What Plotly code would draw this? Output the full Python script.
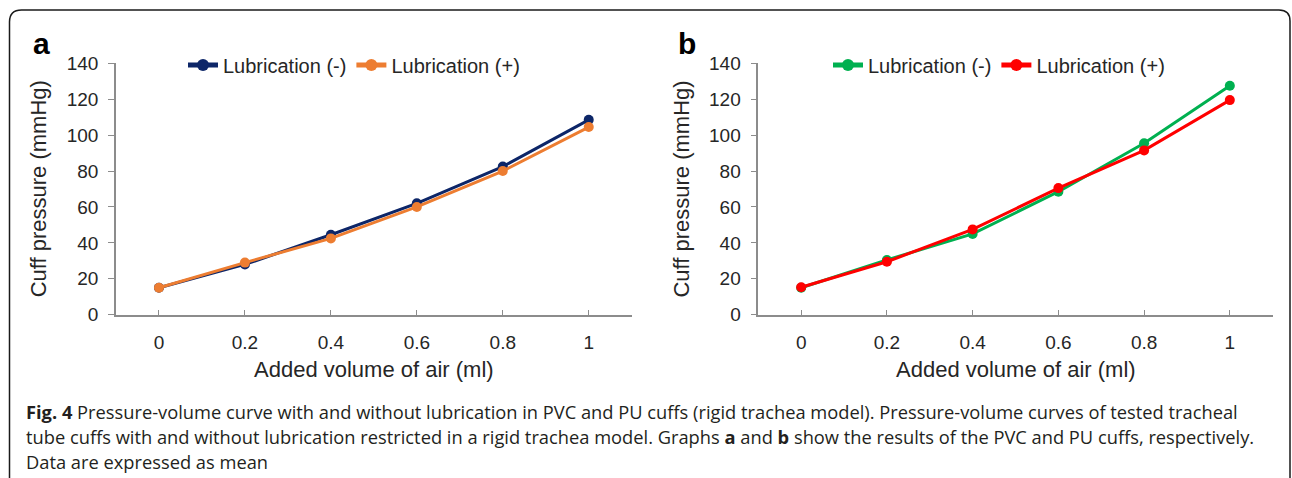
import plotly.graph_objects as go

# ---- data ----
added_volume = [0, 0.2, 0.4, 0.6, 0.8, 1.0]
pvc_lub_minus = [15, 28, 44.5, 62, 82.5, 108.5]
pvc_lub_plus = [15, 29, 42.5, 60, 80, 104.5]
pu_lub_minus = [15, 30.5, 45, 68.5, 95.5, 127.5]
pu_lub_plus = [15.3, 29.5, 47.5, 70.5, 91.5, 119.5]
series_names = ["Lubrication (-)", "Lubrication (+)"]
y_ticks = [0, 20, 40, 60, 80, 100, 120, 140]
x_ticks = [0, 0.2, 0.4, 0.6, 0.8, 1]
x_tick_labels = ["0", "0.2", "0.4", "0.6", "0.8", "1"]
panel_labels = ["a", "b"]
x_title = "Added volume of air (ml)"
y_title = "Cuff pressure (mmHg)"
caption_lines = [
    "<b>Fig. 4</b> Pressure-volume curve with and without lubrication in PVC and PU cuffs (rigid trachea model). Pressure-volume curves of tested tracheal",
    "tube cuffs with and without lubrication restricted in a rigid trachea model. Graphs <b>a</b> and <b>b</b> show the results of the PVC and PU cuffs, respectively.",
    "Data are expressed as mean",
]

W, H = 1292, 478


def px(x):
    return x / W


def py(y):
    return 1 - y / H


FONT = "Liberation Sans, Arial, sans-serif"
TXT = "#262626"
AX = "#8c8c8c"

fig = go.Figure()

colors_a = ["#0d2668", "#ED7D31"]
colors_b = ["#00B050", "#FF0000"]

for name, ys, c in zip(series_names, [pvc_lub_minus, pvc_lub_plus], colors_a):
    fig.add_trace(go.Scatter(x=added_volume, y=ys, name=name, mode="lines+markers",
                             line=dict(color=c, width=3), marker=dict(color=c, size=10),
                             xaxis="x", yaxis="y", legend="legend"))
for name, ys, c in zip(series_names, [pu_lub_minus, pu_lub_plus], colors_b):
    fig.add_trace(go.Scatter(x=added_volume, y=ys, name=name, mode="lines+markers",
                             line=dict(color=c, width=3), marker=dict(color=c, size=10),
                             xaxis="x2", yaxis="y2", legend="legend2"))

plot_top, plot_bot = 63.3, 314.7
dom_y = [py(plot_bot), py(plot_top)]
panels = [(116, 631.7), (758.3, 1272.7)]

xaxis_common = dict(range=[-0.1, 1.1], tickvals=x_ticks, ticktext=x_tick_labels,
                    showline=True, linecolor=AX, linewidth=1.5, ticks="inside",
                    ticklen=5, tickcolor=AX, tickwidth=1.3, showgrid=False, zeroline=False,
                    automargin=False,
                    tickfont=dict(family=FONT, size=19, color=TXT), ticklabelstandoff=10)
yaxis_common = dict(range=[0, 140], tickvals=y_ticks, showline=True, linecolor=AX,
                    linewidth=1.5, ticks="outside", ticklen=6, tickcolor=AX, tickwidth=1.3,
                    showgrid=False, zeroline=False, automargin=False,
                    tickfont=dict(family=FONT, size=19, color=TXT), ticklabelstandoff=6)

fig.update_layout(
    width=W, height=H, margin=dict(l=0, r=0, t=0, b=0, pad=0, autoexpand=False),
    paper_bgcolor="white", plot_bgcolor="white",
    xaxis=dict(domain=[px(panels[0][0]), px(panels[0][1])], anchor="y", **xaxis_common),
    yaxis=dict(domain=dom_y, anchor="x", **yaxis_common),
    xaxis2=dict(domain=[px(panels[1][0]), px(panels[1][1])], anchor="y2", **xaxis_common),
    yaxis2=dict(domain=dom_y, anchor="x2", **yaxis_common),
    legend=dict(orientation="h", x=px(183), y=py(65), xanchor="left", yanchor="middle",
                font=dict(family=FONT, size=20, color=TXT), bgcolor="rgba(0,0,0,0)",
                itemsizing="constant", tracegroupgap=0, itemwidth=30),
    legend2=dict(orientation="h", x=px(828), y=py(65), xanchor="left", yanchor="middle",
                 font=dict(family=FONT, size=20, color=TXT), bgcolor="rgba(0,0,0,0)",
                 itemsizing="constant", tracegroupgap=0, itemwidth=30),
    showlegend=True,
)

annotations = []
for i, (x0, x1) in enumerate(panels):
    off = x0 - panels[0][0]
    annotations.append(dict(text=f"<b>{panel_labels[i]}</b>", x=px(41 + off + (4 if i else 0)), y=py(43),
                            xref="paper", yref="paper", showarrow=False,
                            xanchor="center", yanchor="middle",
                            font=dict(family=FONT, size=30, color="#000")))
    annotations.append(dict(text=y_title, x=px(38.3 + off), y=py((plot_top + plot_bot) / 2),
                            xref="paper", yref="paper", showarrow=False, textangle=-90,
                            xanchor="center", yanchor="middle",
                            font=dict(family=FONT, size=22, color=TXT)))
    annotations.append(dict(text=x_title, x=px((x0 + x1) / 2), y=py(369),
                            xref="paper", yref="paper", showarrow=False,
                            xanchor="center", yanchor="middle",
                            font=dict(family=FONT, size=22, color=TXT)))

for k, line in enumerate(caption_lines):
    annotations.append(dict(text=line, x=px(24), y=py(411 + 25 * k), xref="paper", yref="paper",
                            showarrow=False, xanchor="left", yanchor="middle",
                            font=dict(family="Open Sans, sans-serif", size=18.3, color="#231f20")))

fig.update_layout(annotations=annotations)

# rounded frame (top corners visible, continues below the image)
path = (f"M {px(9.5)},{py(H + 5)} L {px(9.5)},{py(22)} "
        f"Q {px(9.5)},{py(10)} {px(21.5)},{py(10)} "
        f"L {px(1279)},{py(10)} Q {px(1290)},{py(10)} {px(1290)},{py(21)} "
        f"L {px(1290)},{py(H + 5)}")
fig.add_shape(type="path", path=path, xref="paper", yref="paper",
              line=dict(color="#1a1a1a", width=1.5), layer="above")

fig.write_html("out.html", config={"displayModeBar": False},
               post_script="document.body.style.margin='0';document.body.style.overflow='hidden';")
